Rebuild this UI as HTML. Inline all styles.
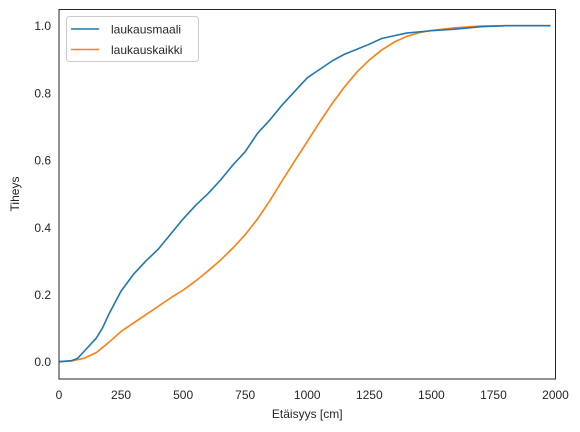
<!DOCTYPE html>
<html><head><meta charset="utf-8"><style>
body{margin:0;background:#fff;}
svg{display:block;font-family:"Liberation Sans",Arial,sans-serif;}
</style></head><body>
<svg id="chart" width="580" height="432" viewBox="0 0 580 432">
<rect width="580" height="432" fill="#fff"/>
<g id="plot"></g>
</svg>
<script>
const xTicks=[0,250,500,750,1000,1250,1500,1750,2000];
const yTicks=[0.0,0.2,0.4,0.6,0.8,1.0];
const seriesNames=["laukausmaali","laukauskaikki"];
const blueX=[0,50,75,100,150,175,200,250,300,350,400,450,500,550,600,650,700,750,800,850,900,950,1000,1050,1100,1150,1200,1250,1300,1350,1400,1500,1600,1700,1800,1980];
const blueY=[0,0.003,0.01,0.03,0.07,0.1,0.14,0.21,0.26,0.3,0.335,0.38,0.425,0.465,0.5,0.54,0.585,0.625,0.68,0.72,0.765,0.805,0.845,0.87,0.895,0.915,0.93,0.945,0.962,0.97,0.978,0.985,0.99,0.997,1.0,1.0];
const orangeX=[0,50,100,150,200,250,300,350,400,450,500,550,600,650,700,750,800,850,900,950,1000,1050,1100,1150,1200,1250,1300,1350,1400,1450,1500,1600,1700,1800,1980];
const orangeY=[0,0.002,0.01,0.027,0.057,0.09,0.115,0.14,0.165,0.19,0.213,0.24,0.27,0.302,0.338,0.378,0.425,0.48,0.54,0.598,0.655,0.713,0.768,0.818,0.862,0.898,0.928,0.951,0.968,0.979,0.986,0.994,0.999,1.0,1.0];
const L=59,R=555.5,T=9.5,B=379;
const sx=v=>L+(v/2000)*(R-L);
const sy=v=>361.7-v*336;
const NS="http://www.w3.org/2000/svg";
const g=document.getElementById('plot');
function mk(t,a,txt){const e=document.createElementNS(NS,t);for(const k in a)e.setAttribute(k,a[k]);if(txt!==undefined)e.textContent=txt;g.appendChild(e);return e;}
xTicks.forEach(v=>{const e=mk('text',{x:sx(v),y:399,'text-anchor':'middle','font-size':12,fill:'#262626'},String(v));

});
yTicks.forEach(v=>{const e=mk('text',{x:51,y:sy(v)+4.5,'text-anchor':'end','font-size':12,fill:'#262626'},v.toFixed(1));

});
const xt=mk('text',{x:(L+R)/2,y:418,'text-anchor':'middle','font-size':12,fill:'#262626'},'Etäisyys [cm]');


const yt=mk('text',{x:0,y:0,transform:'translate(19,194) rotate(-90)','text-anchor':'middle','font-size':12,fill:'#262626'},'Tiheys');


function line(xs,ys,c,name){const d=xs.map((x,i)=>(i?'L':'M')+sx(x).toFixed(2)+','+sy(ys[i]).toFixed(2)).join('');
const p=mk('path',{d:d,fill:'none',stroke:c,'stroke-width':1.6,'stroke-linejoin':'round'});

}
line(orangeX,orangeY,'#ff7f0e','line-laukauskaikki');
line(blueX,blueY,'#1f77b4','line-laukausmaali');
const fr=mk('rect',{x:L,y:T,width:R-L,height:B-T,fill:'none',stroke:'#262626','stroke-width':1});


const lg=mk('rect',{x:66.5,y:16.5,width:132,height:45,rx:3,fill:'#fff',stroke:'#ccc','stroke-width':1});


const cols=['#1f77b4','#ff7f0e'];
seriesNames.forEach((n,i)=>{const y=29+i*20.5;
const l=mk('line',{x1:71,x2:99,y1:y,y2:y,stroke:cols[i],'stroke-width':1.6});


const t=mk('text',{x:111,y:y+4.5,'font-size':12,fill:'#262626'},n);

});
</script>
</body></html>
